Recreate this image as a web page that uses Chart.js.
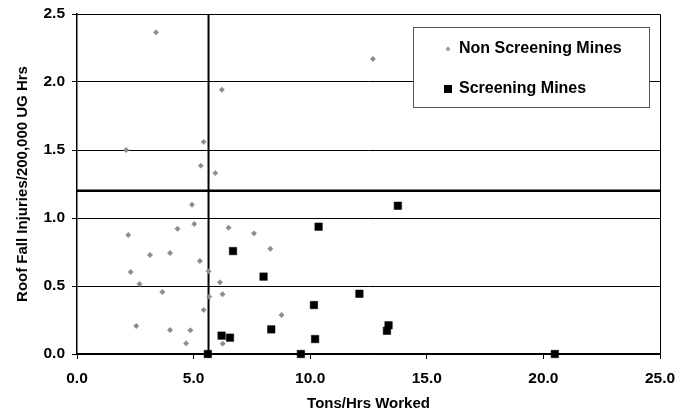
<!DOCTYPE html>
<html>
<head>
<meta charset="utf-8">
<script src="https://cdn.jsdelivr.net/npm/chart.js@4"></script>
<style>
html,body{margin:0;padding:0;background:#fff;}
#wrap{width:693px;height:413px;position:relative;}
</style>
</head>
<body>
<div id="wrap"><canvas id="c" width="693" height="413"></canvas></div>
<script>
// Non screening mines (tons/hrs worked, roof fall injuries)
const nonScreenX = [3.39, 2.11, 5.43, 5.31, 5.93, 6.21, 12.69, 4.93, 5.03, 2.20, 4.31, 3.13, 3.99, 5.27, 2.30, 5.64, 2.68, 3.66, 5.67, 5.43, 2.54, 3.99, 4.86, 4.68, 6.50, 7.59, 8.29, 6.13, 6.24, 8.77, 6.25];
const nonScreenY = [2.365, 1.50, 1.56, 1.385, 1.33, 1.943, 2.169, 1.098, 0.956, 0.875, 0.921, 0.728, 0.743, 0.684, 0.603, 0.608, 0.515, 0.456, 0.421, 0.324, 0.206, 0.176, 0.174, 0.078, 0.929, 0.887, 0.774, 0.527, 0.439, 0.287, 0.076];
// Screening mines
const screenX = [10.36, 6.69, 8.00, 10.16, 8.33, 6.20, 6.56, 10.21, 5.61, 9.60, 13.76, 12.11, 13.36, 13.29, 20.49];
const screenY = [0.936, 0.757, 0.569, 0.360, 0.181, 0.135, 0.120, 0.110, 0.0, 0.0, 1.090, 0.443, 0.211, 0.171, 0.0];
// Reference lines
const refX = 5.64;
const refY = 1.2;
const xTicks = [0, 5, 10, 15, 20, 25];
const yTicks = [0, 0.5, 1.0, 1.5, 2.0, 2.5];
const seriesNames = ["Non Screening Mines", "Screening Mines"];

const FONT = "'Liberation Sans', Arial, sans-serif";

const toPts = (xs, ys) => xs.map((x, i) => ({x: x, y: ys[i]}));

const legendPlugin = {
  id: 'boxLegend',
  afterDatasetsDraw(chart) {
    const ctx = chart.ctx;
    ctx.save();
    const bx = 413.5, by = 27.5, bw = 236, bh = 80;
    ctx.fillStyle = '#fff';
    ctx.fillRect(bx, by, bw, bh);
    ctx.strokeStyle = '#555';
    ctx.lineWidth = 1;
    ctx.strokeRect(bx, by, bw, bh);
    ctx.font = "bold 16px " + FONT;
    ctx.fillStyle = '#000';
    ctx.textBaseline = 'middle';
    ctx.textAlign = 'left';
    ctx.fillText(seriesNames[0], 459, 49);
    ctx.fillText(seriesNames[1], 459, 89);
    // diamond
    ctx.fillStyle = '#999';
    ctx.beginPath();
    ctx.moveTo(448, 46.5); ctx.lineTo(450.5, 49); ctx.lineTo(448, 51.5); ctx.lineTo(445.5, 49); ctx.closePath();
    ctx.fill();
    // square
    ctx.fillStyle = '#000';
    ctx.fillRect(444, 85, 8, 8);
    ctx.restore();
  }
};

const borderPlugin = {
  id: 'areaBorder',
  beforeDatasetsDraw(chart) {
    const a = chart.chartArea, ctx = chart.ctx;
    ctx.save();
    ctx.strokeStyle = '#000';
    ctx.lineWidth = 1;
    ctx.beginPath();
    ctx.moveTo(a.left, a.top + 0.5); ctx.lineTo(a.right + 0.5, a.top + 0.5); ctx.lineTo(a.right + 0.5, a.bottom);
    ctx.stroke();
    ctx.restore();
  }
};

new Chart(document.getElementById('c'), {
  type: 'scatter',
  data: {
    datasets: [
      {
        label: seriesNames[1],
        data: toPts(screenX, screenY),
        pointStyle: 'rect',
        pointRadius: 5.3,
        pointHoverRadius: 5.3,
        backgroundColor: '#000',
        borderColor: '#000',
        borderWidth: 0.5,
        clip: false,
        order: 1
      },
      {
        label: seriesNames[0],
        data: toPts(nonScreenX, nonScreenY),
        pointStyle: 'rectRot',
        pointRadius: 2.7,
        pointHoverRadius: 2.7,
        backgroundColor: '#8c8c8c',
        borderColor: '#8c8c8c',
        borderWidth: 0.5,
        clip: false,
        order: 2
      },
      {
        label: 'vref',
        data: [{x: refX, y: 0}, {x: refX, y: 2.5}],
        showLine: true,
        pointRadius: 0,
        borderColor: '#000',
        borderWidth: 2,
        order: 5
      },
      {
        label: 'href',
        data: [{x: 0, y: refY}, {x: 25, y: refY}],
        showLine: true,
        pointRadius: 0,
        borderColor: '#000',
        borderWidth: 2.5,
        order: 5
      }
    ]
  },
  options: {
    responsive: false,
    animation: false,
    devicePixelRatio: 1,
    layout: { padding: { left: 0, right: 33, top: 14, bottom: 0 } },
    plugins: {
      legend: { display: false },
      tooltip: { enabled: false }
    },
    scales: {
      x: {
        type: 'linear',
        min: 0, max: 25,
        afterBuildTicks(s) { s.ticks = xTicks.map(v => ({value: v})); },
        afterFit(s) { s.height = 59; s.paddingLeft = 0; s.paddingRight = 0; },
        ticks: {
          callback: v => Number(v).toFixed(1),
          color: '#000',
          font: { family: FONT, size: 15.5, weight: 'bold' },
          padding: 10,
          maxRotation: 0
        },
        grid: { drawOnChartArea: false, drawTicks: true, tickLength: 5, color: '#000', lineWidth: 1 },
        border: { color: '#000', width: 1.5 },
        title: {
          display: true,
          text: 'Tons/Hrs Worked',
          color: '#000',
          font: { family: FONT, size: 15, weight: 'bold' },
          padding: { top: 2, bottom: 0 }
        }
      },
      y: {
        type: 'linear',
        min: 0, max: 2.5,
        afterBuildTicks(s) { s.ticks = yTicks.map(v => ({value: v})); },
        afterFit(s) { s.width = 77; s.paddingTop = 0; s.paddingBottom = 0; },
        ticks: {
          callback: v => Number(v).toFixed(1),
          color: '#000',
          font: { family: FONT, size: 15.5, weight: 'bold' },
          padding: 7
        },
        grid: { drawOnChartArea: true, drawTicks: true, tickLength: 5, color: '#000', lineWidth: 1 },
        border: { color: '#000', width: 1.5 },
        title: {
          display: true,
          text: 'Roof Fall Injuries/200,000 UG Hrs',
          color: '#000',
          font: { family: FONT, size: 15, weight: 'bold' },
          padding: { top: 14, bottom: 0 }
        }
      }
    }
  },
  plugins: [borderPlugin, legendPlugin]
});
</script>
</body>
</html>
